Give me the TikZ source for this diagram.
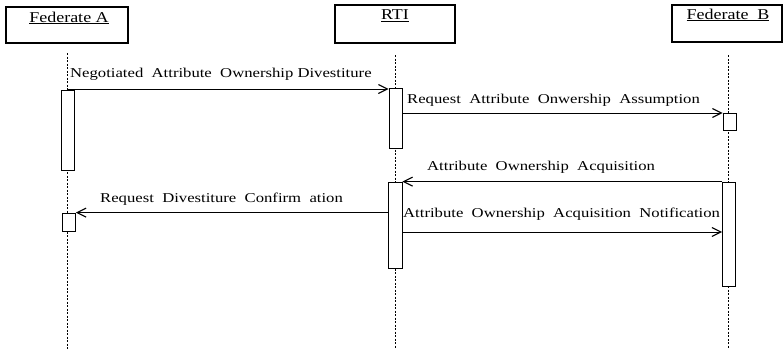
\documentclass[tikz,border=0pt]{standalone}
\usepackage{fontspec}
\setmainfont[FakeStretch=1.2]{Liberation Serif}
\newfontfamily\lblfont[FakeStretch=1.235]{Liberation Serif}
\usetikzlibrary{arrows.meta}
\tikzset{
  hdr/.style={draw, line width=1.6pt, inner sep=0pt},
  hdrtext/.style={font=\fontsize{15}{17}\selectfont, inner sep=0pt},
  life/.style={line width=0.6pt, dash pattern=on 2pt off 1.5pt},
  act/.style={draw, line width=0.8pt, fill=white, inner sep=0pt},
  msg/.style={line width=0.9pt, -{Straight Barb[length=9pt,width=9pt,line width=1.1pt]}},
  lbl/.style={font=\lblfont\fontsize{13.5}{15}\selectfont, inner sep=0pt},
}
\begin{document}
\begin{tikzpicture}[x=1pt,y=-1pt]
\useasboundingbox (0,0) rectangle (784,349);
% headers
\node[hdr, minimum width=122pt, minimum height=36pt] (hA) at (67,25) {};
\node[hdrtext] (tA) at (69,18) {\underline{Federate A}};
\node[hdr, minimum width=120pt, minimum height=38pt] (hR) at (395,24) {};
\node[hdrtext] (tR) at (395,16) {\underline{RTI}};
\node[hdr, minimum width=110pt, minimum height=37pt] (hB) at (727,23.5) {};
\node[hdrtext] (tB) at (728,15) {\underline{Federate\ \ B}};
% lifelines
\coordinate (lA0) at (67,53); \coordinate (lA1) at (67,349);
\coordinate (lR0) at (395,55); \coordinate (lR1) at (395,349);
\coordinate (lB0) at (728,55); \coordinate (lB1) at (728,349);
\draw[life] (lA0) -- (lA1);
\draw[life] (lR0) -- (lR1);
\draw[life] (lB0) -- (lB1);
% activations
\node[act, minimum width=13pt, minimum height=80pt] (aA1) at (68,130) {};
\node[act, minimum width=13pt, minimum height=18pt] (aA2) at (69,222) {};
\node[act, minimum width=13pt, minimum height=60pt] (aR1) at (395.5,118) {};
\node[act, minimum width=14pt, minimum height=86pt] (aR2) at (395,225) {};
\node[act, minimum width=13pt, minimum height=17pt] (aB1) at (729.5,121.5) {};
\node[act, minimum width=13pt, minimum height=104pt] (aB2) at (729,234) {};
% messages
\coordinate (m1s) at (67,89);
\draw[msg] (m1s) -- (m1s -| aR1.west);
\node[lbl, anchor=west] (l1) at (70,74) {Negotiated\ \ Attribute\ \ Ownership Divestiture};
\coordinate (m2) at (402,113);
\draw[msg] (m2) -- (m2 -| aB1.west);
\node[lbl, anchor=west] (l2) at (407,100) {Request\ \ Attribute\ \ Onwership\ \ Assumption};
\draw[msg] (aB2.north west) -- (aR2.north east);
\node[lbl, anchor=west] (l3) at (427,167) {Attribute\ \ Ownership\ \ Acquisition};
\draw[msg] (aR2.west |- aA2.north) -- (aA2.north east);
\node[lbl, anchor=west] (l4) at (100,199) {Request\ \ Divestiture\ \ Confirm\ \ ation};
\coordinate (m5) at (402,232);
\draw[msg] (m5) -- (m5 -| aB2.west);
\node[lbl, anchor=west] (l5) at (403,214) {Attribute\ \ Ownership\ \ Acquisition\ \ Notification};
\end{tikzpicture}
\end{document}
